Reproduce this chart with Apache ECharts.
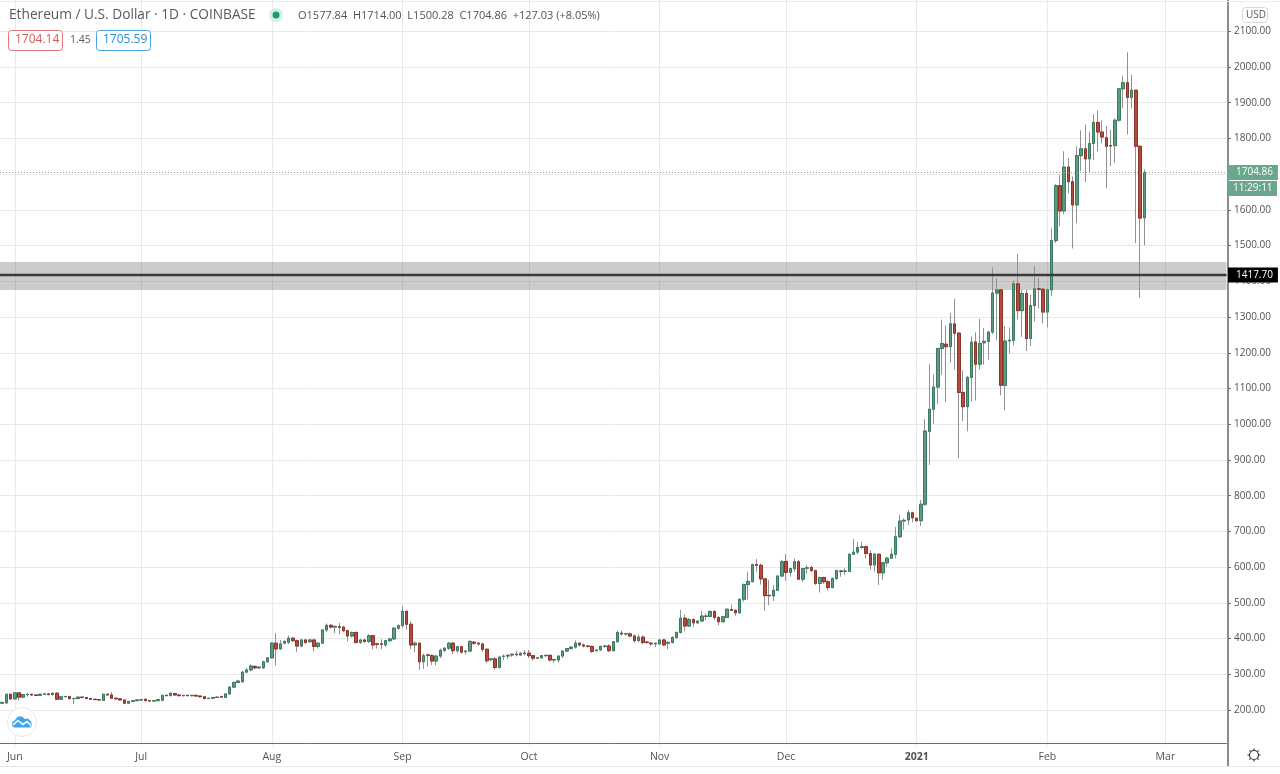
<!DOCTYPE html>
<html>
<head>
<meta charset="utf-8">
<style>
html, body { margin: 0; padding: 0; background: #fff; }
#chart { width: 1280px; height: 774px; }
</style>
<script src="https://cdn.jsdelivr.net/npm/echarts@6/dist/echarts.min.js"></script>
</head>
<body>
<div id="chart"></div>
<script>
// daily candles, 2020-05-29 .. 2021-02-24
const opens = [
  219,220,244,231,248,236,243,244,242,241,
  244,245,243,247,230,237,238,232,232,236,
  235,232,230,229,227,244,242,233,231,228,
  219,224,226,228,230,226,225,226,227,241,
  240,246,242,240,241,240,241,239,237,232,
  233,235,238,235,245,264,277,279,306,312,
  322,318,318,335,346,387,371,387,390,401,
  394,379,396,391,396,378,387,424,437,432,
  433,432,422,407,417,389,396,392,408,385,
  385,382,394,399,429,436,476,440,382,387,
  335,354,352,337,351,367,373,387,366,377,
  363,365,390,387,385,370,341,343,319,350,
  351,354,356,354,359,359,352,345,346,352,
  353,340,340,351,365,372,376,387,382,379,
  378,366,368,378,379,366,391,415,413,413,
  407,394,404,390,387,385,385,396,387,389,
  403,417,457,435,453,444,449,462,462,476,
  459,447,459,481,479,472,510,551,559,607,
  605,567,521,519,535,575,616,585,596,615,
  566,597,599,590,554,571,559,543,568,589,
  588,588,636,642,655,657,638,606,636,584,
  612,625,636,685,729,732,752,737,730,776,
  980,1042,1104,1212,1224,1217,1281,1255,1089,1049,
  1131,1230,1168,1228,1232,1258,1367,1376,1109,1233,
  1235,1393,1318,1366,1240,1332,1379,1378,1314,1376,
  1514,1668,1597,1720,1679,1614,1752,1771,1743,1786,
  1845,1818,1802,1780,1780,1851,1939,1956,1915,1935,
  1778,1577.84
];
const closes = [
  221,244,231,248,236,243,244,242,241,244,
  245,243,247,230,237,238,232,232,236,235,
  232,230,229,228,244,242,233,231,228,219,
  224,226,228,229,226,225,226,229,241,240,
  247,242,240,241,240,241,239,237,232,233,
  235,236,236,245,264,277,281,306,312,323,
  318,320,335,346,387,371,385,392,401,394,
  379,396,389,396,378,387,424,437,432,434,
  431,422,407,417,389,396,392,408,382,384,
  384,394,399,429,436,476,440,382,387,335,
  352,353,337,351,367,373,387,366,377,362,
  365,392,387,385,370,338,343,319,348,351,
  353,356,355,359,358,352,345,346,352,353,
  340,341,351,365,372,376,387,382,379,378,
  364,368,378,379,366,391,417,413,414,407,
  394,404,389,389,385,387,396,382,389,403,
  417,457,435,453,444,449,463,463,476,459,
  447,461,482,479,472,510,551,560,607,605,
  567,520,520,535,575,615,585,596,615,566,
  596,598,590,554,571,559,543,568,590,588,
  589,636,642,655,657,638,606,636,584,612,
  625,636,685,729,731,752,738,730,776,981,
  1042,1104,1212,1226,1217,1281,1255,1089,1049,1131,
  1230,1168,1226,1232,1258,1367,1376,1109,1233,1235,
  1393,1318,1366,1240,1332,1379,1378,1314,1376,1514,
  1668,1597,1720,1679,1614,1752,1771,1743,1786,1845,
  1818,1804,1778,1779,1851,1939,1956,1915,1935,1778,
  1577,1704.86
];
const lows = [
  216,217,229,229,226,234,238,240,240,239,
  242,241,241,229,228,235,229,217,230,233,
  231,229,228,226,226,241,231,230,226,216,
  218,223,225,226,224,224,224,225,226,239,
  239,240,239,238,239,238,238,236,230,231,
  232,234,235,234,243,262,275,277,303,308,
  314,315,315,332,344,324,368,384,385,390,
  363,376,385,388,364,372,385,418,428,415,
  412,418,392,403,386,385,388,388,370,372,
  370,376,391,396,424,430,425,370,362,312,
  315,322,326,325,345,362,368,357,360,358,
  355,362,382,380,362,331,336,313,316,340,
  343,349,350,351,353,345,338,343,344,349,
  335,332,333,345,362,369,372,378,375,375,
  360,364,366,374,362,364,389,408,408,404,
  388,392,384,385,380,376,382,379,370,386,
  399,414,420,432,432,440,447,451,461,451,
  437,446,457,477,464,470,503,509,559,587,
  551,478,493,505,534,573,562,573,587,565,
  559,582,587,550,529,552,535,540,564,573,
  578,587,634,636,651,624,593,587,550,564,
  601,624,624,680,704,718,725,727,715,771,
  886,1001,1057,1138,1062,1173,1153,905,1008,980,
  1064,1066,1153,1167,1180,1252,1235,1081,1039,1198,
  1221,1293,1245,1205,1219,1287,1324,1282,1271,1359,
  1507,1554,1588,1646,1492,1563,1709,1678,1704,1739,
  1764,1786,1660,1722,1732,1847,1884,1811,1884,1507,
  1354,1500.28
];
const highs = [
  224,246,246,250,249,245,246,245,244,245,
  247,247,249,249,238,239,239,234,237,237,
  236,233,231,230,245,247,250,234,232,229,
  225,227,229,231,231,227,228,230,242,243,
  248,248,243,242,242,242,242,240,238,234,
  236,237,238,246,266,280,285,309,318,328,
  325,322,338,348,390,415,396,395,408,404,
  397,398,399,398,397,390,426,442,441,436,
  444,436,425,420,420,398,398,412,410,388,
  398,396,402,431,440,490,480,448,392,388,
  358,358,356,354,372,376,390,390,380,380,
  368,395,393,390,388,372,346,348,352,355,
  356,358,366,361,368,368,354,348,354,355,
  355,343,353,367,374,378,395,389,386,382,
  380,369,380,382,384,393,422,423,416,417,
  412,411,409,393,390,388,398,399,393,406,
  420,480,468,458,456,451,477,470,478,479,
  462,462,484,495,481,512,554,587,610,623,
  610,570,564,550,578,620,636,598,624,620,
  598,606,603,593,573,573,564,571,593,592,
  596,638,678,671,671,661,647,640,638,615,
  629,652,712,746,736,760,755,737,788,1014,
  1169,1139,1213,1293,1276,1311,1351,1258,1151,1135,
  1246,1257,1295,1269,1260,1439,1408,1378,1275,1271,
  1402,1477,1376,1376,1362,1443,1410,1380,1380,1548,
  1672,1697,1764,1745,1694,1778,1823,1839,1819,1868,
  1878,1851,1835,1825,1856,1940,1975,2041,1978,1937,
  1780,1714
];
const monthStarts = ['2020-06-01','2020-07-01','2020-08-01','2020-09-01','2020-10-01','2020-11-01','2020-12-01','2021-01-01','2021-02-01','2021-03-01'];
const monthLabels = ['Jun','Jul','Aug','Sep','Oct','Nov','Dec','2021','Feb','Mar'];
const zoneLow = 1376, zoneHigh = 1454;
const levelPrice = 1417.70;
const lastPrice = 1704.86;

// category axis goes on past the last candle, into March
let dates = [];
for (let i = 0; i < 291; i++) {
  dates.push(new Date(Date.UTC(2020, 4, 29 + i)).toISOString().slice(0, 10));
}

const UP = '#5b9c7f', DOWN = '#b84a3c', UP_DARK = '#3c7a60', DOWN_DARK = '#8a3328';
const TEXT = '#4f5258', GRID = '#e9e9ea', AXIS = '#8a8c90';
const FONT = '"Open Sans", "Noto Sans", sans-serif';

let wickData = [], bodyData = [];
opens.forEach((o, i) => {
  wickData.push([o, closes[i], lows[i], highs[i]]);
  bodyData.push([o, closes[i], Math.min(o, closes[i]), Math.max(o, closes[i])]);
});

function priceTag(value, bg) {
  return {
    yAxis: value,
    label: {
      show: true, position: 'end', distance: 1.5,
      formatter: value.toFixed(2), color: '#fff', backgroundColor: bg,
      fontFamily: FONT, fontSize: 10, padding: [3, 5, 2, 8]
    }
  };
}

const isMonthStart = (i, v) => monthStarts.includes(v);

let myChart = echarts.init(document.getElementById('chart'));
myChart.setOption({
  animation: false,
  backgroundColor: '#fff',
  textStyle: { fontFamily: FONT },
  grid: { left: 0, right: 53.5, top: 0, bottom: 28.3 },
  xAxis: {
    type: 'category',
    data: dates,
    boundaryGap: true,
    offset: -2.7,
    axisLine: { lineStyle: { color: '#6c6e73', width: 1 } },
    axisTick: {
      alignWithLabel: true, length: 3, lineStyle: { color: '#6c6e73' },
      interval: isMonthStart
    },
    splitLine: {
      show: true, alignWithLabel: true, lineStyle: { color: GRID, width: 1 },
      interval: isMonthStart
    },
    axisLabel: {
      interval: isMonthStart,
      margin: 9, fontSize: 10.5, color: TEXT, fontFamily: FONT,
      formatter: v => {
        let l = monthLabels[monthStarts.indexOf(v)];
        return l === '2021' ? '{b|' + l + '}' : l;
      },
      rich: { b: { fontWeight: 'bold', fontSize: 10.5, color: TEXT, fontFamily: FONT } }
    }
  },
  yAxis: {
    type: 'value',
    position: 'right',
    offset: 1.5,
    min: 100,
    max: 2187.6,
    interval: 100,
    axisLine: { show: true, lineStyle: { color: AXIS, width: 2 } },
    axisTick: { show: true, length: 3, lineStyle: { color: '#6c6e73' } },
    splitLine: { showMinLine: false, showMaxLine: false, lineStyle: { color: GRID, width: 1 } },
    axisLabel: {
      margin: 6, fontSize: 10, color: TEXT, fontFamily: FONT, showMinLabel: false, showMaxLabel: false,
      formatter: v => v.toFixed(2)
    }
  },
  series: [
    {
      name: 'levels',
      type: 'line',
      data: [],
      z: 1,
      silent: true,
      markArea: {
        silent: true,
        itemStyle: { color: 'rgba(120,120,122,0.38)' },
        data: [[{ yAxis: zoneLow }, { yAxis: zoneHigh }]]
      },
      markLine: {
        silent: true,
        symbol: 'none',
        animation: false,
        data: [
          { ...priceTag(levelPrice, '#000'), lineStyle: { color: '#3a3a3c', width: 2.4, type: 'solid' } },
          { ...priceTag(lastPrice, '#6aa78c'), lineStyle: { color: '#9a9c9c', width: 1, type: [1, 2] } }
        ]
      }
    },
    {
      name: 'wicks',
      type: 'candlestick',
      data: wickData,
      barWidth: 3,
      z: 2,
      itemStyle: { color: UP, color0: DOWN, borderColor: '#909193', borderColor0: '#909193', borderWidth: 1 }
    },
    {
      name: 'bodies',
      type: 'candlestick',
      data: bodyData,
      barWidth: 3,
      z: 3,
      itemStyle: { color: UP, color0: DOWN, borderColor: UP_DARK, borderColor0: DOWN_DARK, borderWidth: 1 }
    }
  ],
  graphic: [
    // patches hide the axis ticks at both ends of the price scale
    { type: 'rect', z: 2, shape: { x: 1229, y: 744, width: 51, height: 22 }, style: { fill: '#fff' } },
    { type: 'rect', z: 2, shape: { x: 1229, y: 0, width: 51, height: 5 }, style: { fill: '#fff' } },
    { type: 'line', z: 4, shape: { x1: 1228, y1: 743, x2: 1228, y2: 766 }, style: { stroke: AXIS, lineWidth: 2 } },
    { type: 'line', z: 4, shape: { x1: 0, y1: 766.5, x2: 1280, y2: 766.5 }, style: { stroke: '#e6e6e8', lineWidth: 1 } },
    { type: 'line', z: 4, shape: { x1: 0, y1: 1.5, x2: 1280, y2: 1.5 }, style: { stroke: '#ececee', lineWidth: 1 } },

    { type: 'text', z: 5, x: 9, y: 8, style: { text: 'Ethereum / U.S. Dollar · 1D · COINBASE', fill: '#55585e', font: '13.7px ' + FONT } },
    { type: 'circle', z: 5, shape: { cx: 276, cy: 15, r: 7 }, style: { fill: '#d5efe8' } },
    { type: 'circle', z: 6, shape: { cx: 276, cy: 15, r: 3.5 }, style: { fill: '#1a9a7f' } },
    { type: 'text', z: 5, x: 298, y: 10, style: { text: 'O1577.84  H1714.00  L1500.28  C1704.86  +127.03 (+8.05%)', fill: '#4f5258', font: '11px ' + FONT } },

    { type: 'rect', z: 5, shape: { x: 8.5, y: 30.5, width: 54, height: 20, r: 3 }, style: { fill: '#fff', stroke: '#e0787c', lineWidth: 1 } },
    { type: 'text', z: 6, x: 15, y: 34, style: { text: '1704.14', fill: '#d9585c', font: '12px ' + FONT } },
    { type: 'text', z: 5, x: 70, y: 35, style: { text: '1.45', fill: '#55585e', font: '10.5px ' + FONT } },
    { type: 'rect', z: 5, shape: { x: 96.5, y: 30.5, width: 54, height: 20, r: 3 }, style: { fill: '#fff', stroke: '#4aa3e0', lineWidth: 1 } },
    { type: 'text', z: 6, x: 103, y: 34, style: { text: '1705.59', fill: '#2a8fd6', font: '12px ' + FONT } },

    { type: 'rect', z: 5, shape: { x: 1242.5, y: 7.5, width: 25, height: 15, r: 3 }, style: { fill: '#fff', stroke: '#d8d9db', lineWidth: 1 } },
    { type: 'text', z: 6, x: 1246, y: 10, style: { text: 'USD', fill: '#55585e', font: '10px ' + FONT } },

    { type: 'rect', z: 5, shape: { x: 1228, y: 181, width: 49, height: 15 }, style: { fill: '#6aa78c' } },
    { type: 'text', z: 6, x: 1233, y: 183, style: { text: '11:29:11', fill: '#fff', font: '10px ' + FONT } },

    // chart logo, bottom left
    { type: 'circle', z: 5, shape: { cx: 22, cy: 722, r: 14.5 }, style: { fill: '#fff', stroke: '#e6e7e9', lineWidth: 1 } },
    {
      type: 'polygon', z: 6,
      shape: { points: [[12,726],[12.5,722],[15,720],[18,716.5],[22,716.5],[25,719],[28,718.5],[31,721.5],[32,725],[30,727.5],[14,727.5]] },
      style: { fill: '#3ba5ee' }
    },
    {
      type: 'polyline', z: 7,
      shape: { points: [[13,725],[18,720.5],[23,724.5],[27,721.5],[31,725.5]] },
      style: { stroke: '#fff', lineWidth: 1.6, fill: 'none' }
    },

    // settings gear
    { type: 'circle', z: 5, shape: { cx: 1254, cy: 755, r: 4.5 }, style: { fill: 'none', stroke: '#33363b', lineWidth: 1.2 } },
    { type: 'line', z: 5, shape: { x1: 1254, y1: 748.5, x2: 1254, y2: 750 }, style: { stroke: '#33363b', lineWidth: 1.2 } },
    { type: 'line', z: 5, shape: { x1: 1254, y1: 760, x2: 1254, y2: 761.5 }, style: { stroke: '#33363b', lineWidth: 1.2 } },
    { type: 'line', z: 5, shape: { x1: 1247.5, y1: 755, x2: 1249, y2: 755 }, style: { stroke: '#33363b', lineWidth: 1.2 } },
    { type: 'line', z: 5, shape: { x1: 1259, y1: 755, x2: 1260.5, y2: 755 }, style: { stroke: '#33363b', lineWidth: 1.2 } },
    { type: 'line', z: 5, shape: { x1: 1249.4, y1: 750.4, x2: 1250.5, y2: 751.5 }, style: { stroke: '#33363b', lineWidth: 1.2 } },
    { type: 'line', z: 5, shape: { x1: 1257.5, y1: 758.5, x2: 1258.6, y2: 759.6 }, style: { stroke: '#33363b', lineWidth: 1.2 } },
    { type: 'line', z: 5, shape: { x1: 1258.6, y1: 750.4, x2: 1257.5, y2: 751.5 }, style: { stroke: '#33363b', lineWidth: 1.2 } },
    { type: 'line', z: 5, shape: { x1: 1250.5, y1: 758.5, x2: 1249.4, y2: 759.6 }, style: { stroke: '#33363b', lineWidth: 1.2 } }
  ]
});
</script>
</body>
</html>
